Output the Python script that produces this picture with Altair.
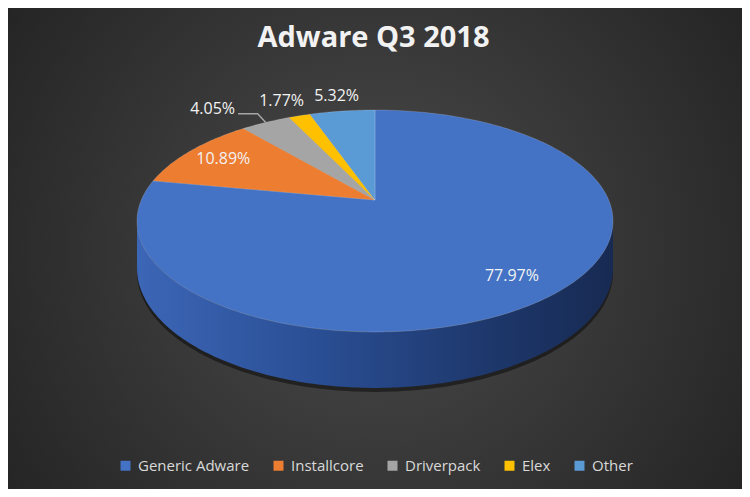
import altair as alt
import numpy as np
import pandas as pd

TITLE = "Adware Q3 2018"
categories = ["Generic Adware", "Installcore", "Driverpack", "Elex", "Other"]
shares = [77.97, 10.89, 4.05, 1.77, 5.32]
colors = ["#4472C4", "#ED7D31", "#A5A5A5", "#FFC000", "#5B9BD5"]

# chart size and the tilted disc (pixels inside the chart)
W, H = 734, 481
CX, CY = 367, 192       # where the slices meet
RX, RY = 233.7, 107.0   # disc radii
TILT = 0.189            # perspective strength
DEPTH = 45.4 / RY       # disc thickness in y units


def project(r, theta):
    d = 1 + TILT * r * np.cos(theta)
    return r * np.sin(theta) / d, r * np.cos(theta) / d


def drop(theta):
    return DEPTH / (1 + TILT * np.cos(theta))


total = sum(shares)
ends = np.cumsum(shares) / total * 2 * np.pi
starts = ends - np.array(shares) / total * 2 * np.pi
mids = (starts + ends) / 2

# top face of each slice
rows = []
for cat, a0, a1 in zip(categories, starts, ends):
    th = np.linspace(a0, a1, max(3, int(np.degrees(a1 - a0)) + 2))
    x, y = project(1.0, th)
    rows.append({"category": cat, "i": 0, "x": 0.0, "y": 0.0})
    for j in range(len(th)):
        rows.append({"category": cat, "i": j + 1, "x": x[j], "y": y[j]})
top_df = pd.DataFrame(rows)

# visible front wall
front0 = np.arccos(-TILT)
front1 = 2 * np.pi - front0
side_rows, shadow_rows = [], []
for cat, a0, a1 in zip(categories, starts, ends):
    lo, hi = max(a0, front0), min(a1, front1)
    if lo >= hi:
        continue
    th = np.linspace(lo, hi, int(np.degrees(hi - lo)) + 2)
    x, y = project(1.0, th)
    yb = y - drop(th)
    pts = list(zip(x, y)) + list(zip(x[::-1], yb[::-1]))
    for j, (px, py) in enumerate(pts):
        side_rows.append({"category": cat, "i": j, "x": px, "y": py})
        shadow_rows.append({"category": cat, "i": j, "x": px, "y": py - 4 / RY})
side_df = pd.DataFrame(side_rows)
shadow_df = pd.DataFrame(shadow_rows)

# data labels: big slices inside, small ones outside, pushed apart if needed
LABEL_W = 47
label_rows, leader_rows = [], []
prev_left = None
order = sorted(range(len(categories)), key=lambda k: -mids[k])
for k in order:
    text = f"{shares[k]:.2f}%"
    if shares[k] >= 10:
        ux, uy = project(0.81, mids[k])
        label_rows.append({"category": categories[k], "label": text, "x": ux, "y": uy})
        continue
    ux, uy = project(1.21, mids[k])
    px, py = CX + ux * RX, CY - uy * RY
    if prev_left is not None and px + LABEL_W / 2 + 8 > prev_left:
        shift = px + LABEL_W / 2 + 8 - prev_left
        if shift > 10:
            px = prev_left - 22 - LABEL_W / 2
            ex, ey = project(1.0, mids[k])
            ex, ey = CX + ex * RX, CY - ey * RY
            pts = [(px + LABEL_W / 2 + 2, py + 5), (ex - 8, py + 5), (ex, ey)]
            for j, (lx, ly) in enumerate(pts):
                leader_rows.append({"category": categories[k], "i": j,
                                    "x": (lx - CX) / RX, "y": (CY - ly) / RY})
        else:
            px -= shift
    prev_left = px - LABEL_W / 2
    label_rows.append({"category": categories[k], "label": text,
                       "x": (px - CX) / RX, "y": (CY - py) / RY})
label_df = pd.DataFrame(label_rows)
leader_df = pd.DataFrame(leader_rows)

xs = alt.Scale(domain=[-CX / RX, (W - CX) / RX], nice=False, zero=False)
ys = alt.Scale(domain=[-(H - CY) / RY, CY / RY], nice=False, zero=False)
X = alt.X("x:Q", scale=xs, axis=None)
Y = alt.Y("y:Q", scale=ys, axis=None)

bg = alt.Chart(pd.DataFrame({"a": [0]})).mark_rect(
    fill=alt.RadialGradient(
        gradient="radial", x1=0.5, y1=0.5, r1=0, x2=0.5, y2=0.5, r2=0.72,
        stops=[alt.GradientStop(color="#4b4b4b", offset=0),
               alt.GradientStop(color="#1d1d1d", offset=1)])
).encode(x=alt.value(0), x2=alt.value(W), y=alt.value(0), y2=alt.value(H))

shadow = alt.Chart(shadow_df).mark_line(
    filled=True, interpolate="linear-closed", fill="#000000", fillOpacity=0.45
).encode(x=X, y=Y, detail="category:N", order="i:Q")

side = alt.Chart(side_df).mark_line(
    filled=True, interpolate="linear-closed",
    fill=alt.LinearGradient(
        gradient="linear", x1=0, y1=0, x2=1, y2=0,
        stops=[alt.GradientStop(color="#3c66b6", offset=0),
               alt.GradientStop(color="#2b5097", offset=0.35),
               alt.GradientStop(color="#1f3a70", offset=0.7),
               alt.GradientStop(color="#172a52", offset=1)])
).encode(x=X, y=Y, detail="category:N", order="i:Q")

top = alt.Chart(top_df).mark_line(
    filled=True, interpolate="linear-closed",
    stroke="#ffffff", strokeOpacity=0.2, strokeWidth=0.8
).encode(
    x=X, y=Y, order="i:Q",
    color=alt.Color("category:N",
                    scale=alt.Scale(domain=categories, range=colors),
                    legend=alt.Legend(title=None, orient="none", direction="horizontal",
                                      legendX=110, legendY=450, symbolType="square",
                                      symbolSize=100, symbolStrokeWidth=0,
                                      labelColor="#d9d9d9", labelFont="Open Sans",
                                      labelFontSize=15, labelOffset=5,
                                      columnPadding=21, padding=0))
)

leader = alt.Chart(leader_df).mark_line(color="#a6a6a6", strokeWidth=1.5).encode(
    x=X, y=Y, detail="category:N", order="i:Q")

labels = alt.Chart(label_df).mark_text(
    font="Open Sans", fontSize=16, color="#f2f2f2"
).encode(x=X, y=Y, text="label:N")

title = alt.Chart(pd.DataFrame({"t": [TITLE]})).mark_text(
    font="Open Sans", fontSize=29, fontWeight="bold", color="#f2f2f2",
    baseline="alphabetic"
).encode(x=alt.value(CX - 1.5), y=alt.value(39), text="t:N")

chart = alt.layer(bg, shadow, side, top, leader, labels, title).properties(
    width=W, height=H, padding=0, autosize="none", background="#2b2b2b"
).configure_view(stroke="transparent")

chart.save("out.html", embed_options={"renderer": "svg", "actions": False})
